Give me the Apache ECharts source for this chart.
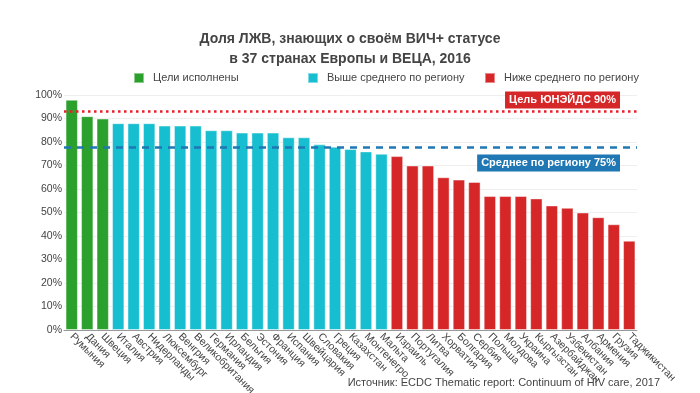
<!DOCTYPE html>
<html><head><meta charset="utf-8">
<script src="https://cdn.jsdelivr.net/npm/echarts@6/dist/echarts.min.js"></script>
<style>html,body{margin:0;padding:0;background:#fff}#c{width:700px;height:393px}</style>
</head><body><div id="c"></div>
<script>
const countries = ["Румыния","Дания","Швеция","Италия","Австрия","Нидерланды","Люксембург","Венгрия","Великобритания","Германия","Ирландия","Бельгия","Эстония","Франция","Испания","Швейцария","Словакия","Греция","Казахстан","Монтенегро","Мальта","Израиль","Португалия","Литва","Хорватия","Болгария","Сербия","Польша","Молдова","Украина","Кыргызстан","Азербайджан","Узбекистан","Албания","Армения","Грузия","Таджикистан"];
const values = [98,91,90,88,88,88,87,87,87,85,85,84,84,84,82,82,79,78,77,76,75,74,70,70,65,64,63,57,57,57,56,53,52,50,48,45,38];
const groups = [0,0,0,1,1,1,1,1,1,1,1,1,1,1,1,1,1,1,1,1,1,2,2,2,2,2,2,2,2,2,2,2,2,2,2,2,2];
const groupNames = ["Цели исполнены","Выше среднего по региону","Ниже среднего по региону"];
const groupColors = ["#2ca02c","#17becf","#d62728"];
const targetLine = 93;   // drawn position of "Цель ЮНЭЙДС 90%"
const avgLine = 77.7;    // drawn position of "Среднее по региону 75%"
const yTicks = [0,10,20,30,40,50,60,70,80,90,100];

const font = "Liberation Sans";
const series = groupNames.map((name, g) => ({
  name, type: 'bar', stack: 'all', barCategoryGap: '20%',
  itemStyle: { color: groupColors[g], borderColor: 'rgba(255,255,255,0.45)', borderWidth: 1 },
  data: values.map((v, i) => groups[i] === g ? v : '-')
}));
series[0].markLine = {
  symbol: 'none', silent: true,
  data: [
    { yAxis: targetLine, lineStyle: { color: '#e8202a', type: [2.5, 3.5], width: 2.5 },
      label: { show: true, position: 'insideEndTop', distance: [17, 3], formatter: 'Цель ЮНЭЙДС 90%', color: '#fff', fontWeight: 'bold', fontSize: 11, fontFamily: font, backgroundColor: '#d62728', padding: [3, 4, 3, 4] } },
    { yAxis: avgLine, lineStyle: { color: '#1f77b4', type: [7, 6], width: 2.5 },
      label: { show: true, position: 'insideEndBottom', distance: [17, 7], formatter: 'Среднее по региону 75%', color: '#fff', fontWeight: 'bold', fontSize: 11, fontFamily: font, backgroundColor: '#1f77b4', padding: [3, 4, 3, 4] } }
  ]
};
const legendLefts = [133, 307, 484];
const chart = echarts.init(document.getElementById('c'), null, { renderer: 'canvas' });
chart.setOption({
  animation: false,
  textStyle: { fontFamily: font },
  title: { text: 'Доля ЛЖВ, знающих о своём ВИЧ+ статусе\nв 37 странах Европы и ВЕЦА, 2016', left: 'center', top: 24,
    textStyle: { fontSize: 14, fontWeight: 'bold', color: '#444', lineHeight: 20, fontFamily: font } },
  legend: groupNames.map((n, g) => ({ data: [n], left: legendLefts[g], top: 72, padding: 0, icon: 'rect', itemWidth: 10, itemHeight: 10, itemGap: 0,
    textStyle: { fontSize: 11, color: '#444', fontFamily: font, padding: [0, 0, 0, 4] } })),
  grid: { left: 64, right: 63, top: 95, bottom: 63, outerBoundsMode: 'none' },
  xAxis: { type: 'category', data: countries,
    axisLine: { lineStyle: { color: '#999' } }, axisTick: { show: false },
    axisLabel: { rotate: -45, interval: 0, fontSize: 10.5, color: '#444', margin: 5, fontFamily: font } },
  yAxis: { type: 'value', min: yTicks[0], max: yTicks[yTicks.length - 1], interval: 10,
    axisLabel: { formatter: '{value}%', fontSize: 10.5, color: '#444', margin: 2, fontFamily: font },
    splitLine: { lineStyle: { color: '#eee' } }, axisLine: { show: false }, axisTick: { show: false } },
  graphic: [{ type: 'text', right: 40, top: 377, style: { text: 'Источник: ECDC Thematic report: Continuum of HIV care, 2017', fontSize: 11, fill: '#444', fontFamily: font } }],
  series
});
</script></body></html>
